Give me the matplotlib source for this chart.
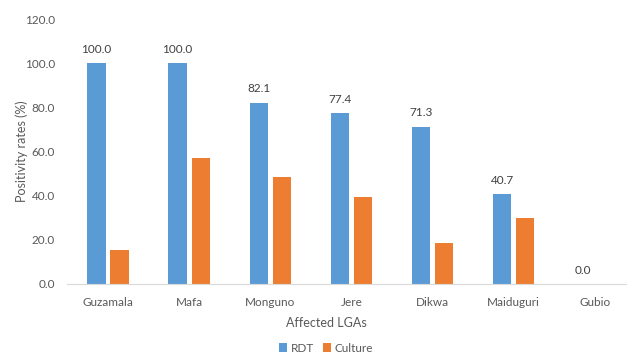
import numpy as np
import matplotlib.pyplot as plt

# positivity rates per LGA
lgas = ['Guzamala', 'Mafa', 'Monguno', 'Jere', 'Dikwa', 'Maiduguri', 'Gubio']
rdt = [100.0, 100.0, 82.1, 77.4, 71.3, 40.7, 0.0]
culture = [15.3, 57.3, 48.3, 39.3, 18.8, 29.8, 0.0]

blue = '#5B9BD5'
orange = '#ED7D31'
grey = '#595959'

plt.rcParams['font.family'] = ['Lato', 'DejaVu Sans']

fig = plt.figure(figsize=(6.27, 3.56), dpi=100)
ax = fig.add_axes([67.4 / 627, 72 / 356, 568 / 627, 264.8 / 356])

x = np.arange(len(lgas))
w = 0.225
b1 = ax.bar(x - 0.142, rdt, w, color=blue, label='RDT')
b2 = ax.bar(x + 0.142, culture, w, color=orange, label='Culture')

# labels only on the RDT bars
for rect, v in zip(b1, rdt):
    ax.annotate('%.1f' % v, (rect.get_x() + rect.get_width() / 2, v),
                xytext=(0, 6), textcoords='offset points',
                ha='center', va='bottom', fontsize=8.5, color='#404040')

ax.set_xlim(-0.5, 6.5)
ax.set_ylim(0, 120)
ax.set_yticks(np.arange(0, 121, 20))
ax.set_yticklabels(['%.1f' % t for t in np.arange(0, 121, 20)])
ax.set_xticks(x)
ax.set_xticklabels(lgas)

for s in ['top', 'right', 'left']:
    ax.spines[s].set_visible(False)
ax.spines['bottom'].set_color('#D9D9D9')
ax.tick_params(axis='both', length=0, labelsize=8.5, colors=grey)
ax.tick_params(axis='x', pad=9)
ax.tick_params(axis='y', pad=9)

ax.set_ylabel('Positivity rates (%)', fontsize=9, color=grey)
ax.yaxis.set_label_coords(-0.07, 0.5)
fig.text(326 / 627, 1 - 323 / 356, 'Affected LGAs', ha='center', va='center',
         fontsize=9, color=grey)

fig.legend(loc='center', bbox_to_anchor=(326 / 627, 1 - 348 / 356), ncol=2,
           frameon=False, fontsize=8.5, handlelength=0.7, handleheight=0.7,
           handletextpad=0.3, columnspacing=0.8, labelcolor=grey)

fig.savefig('out.png', dpi=100)
